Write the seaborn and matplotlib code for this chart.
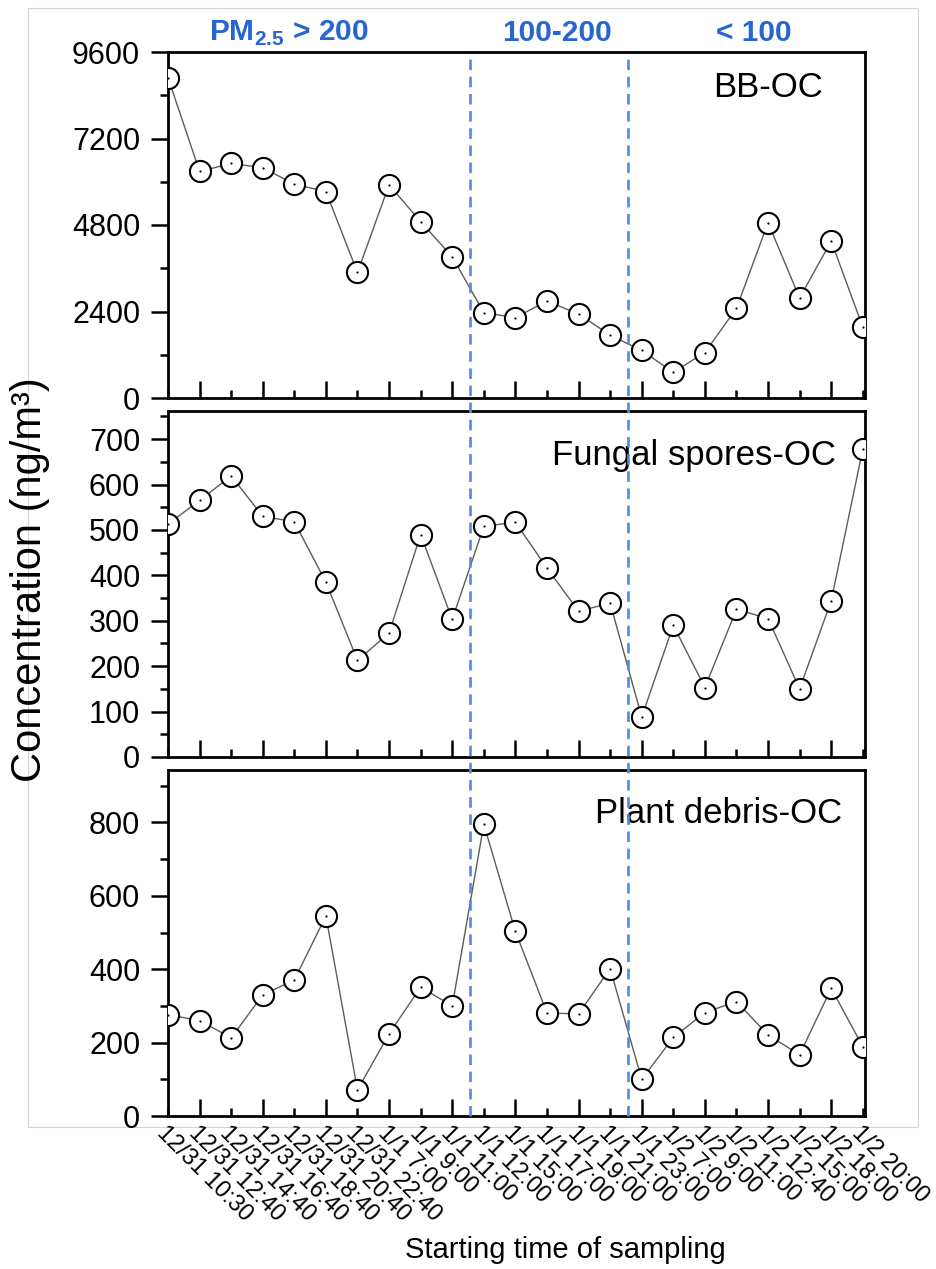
import numpy as np
import pandas as pd
import matplotlib
matplotlib.use("Agg")
import matplotlib.pyplot as plt
import seaborn as sns
from matplotlib.lines import Line2D
from matplotlib.patches import Rectangle
from matplotlib.transforms import blended_transform_factory
from matplotlib.ticker import FixedLocator, FixedFormatter, MultipleLocator

# ---------------- data ----------------
sample_times = [
    "12/31 10:30", "12/31 12:40", "12/31 14:40", "12/31 16:40",
    "12/31 18:40", "12/31 20:40", "12/31 22:40",
    "1/1 7:00", "1/1 9:00", "1/1 11:00", "1/1 12:00", "1/1 15:00",
    "1/1 17:00", "1/1 19:00", "1/1 21:00", "1/1 23:00",
    "1/2 7:00", "1/2 9:00", "1/2 11:00", "1/2 12:40", "1/2 15:00",
    "1/2 18:00", "1/2 20:00",
]
bb_oc = [8890, 6285, 6508, 6388, 5934, 5728, 3483, 5915, 4892, 3917,
         2368, 2229, 2691, 2329, 1744, 1318, 713, 1262, 2488, 4864,
         2775, 4354, 1967]
fungal_spores_oc = [513, 565, 619, 530, 518, 385, 213, 273, 490, 303,
                    508, 517, 416, 321, 339, 88, 290, 153, 325, 305,
                    150, 344, 678]
plant_debris_oc = [276, 260, 213, 330, 371, 545, 71, 224, 351, 300,
                   795, 503, 281, 278, 402, 100, 214, 282, 312, 221,
                   167, 348, 189]
panel_names = ["BB-OC", "Fungal spores-OC", "Plant debris-OC"]
period_labels = [r"PM$_{\mathbf{2.5}}$ > 200", "100-200", "< 100"]
period_breaks = [9.55, 14.55]
y_limits = [(0, 9600), (0, 762), (0, 943)]
y_major = [2400, 100, 200]
y_minor = [1200, 50, 100]

# ---------------- style ----------------
sns.set_style("ticks")
plt.rcParams["font.family"] = ["Liberation Sans", "DejaVu Sans"]
plt.rcParams["mathtext.fontset"] = "custom"
plt.rcParams["mathtext.rm"] = "Liberation Sans"
plt.rcParams["mathtext.bf"] = "Liberation Sans:bold"
for key in ["text.color", "axes.labelcolor", "xtick.color", "ytick.color",
            "axes.edgecolor"]:
    plt.rcParams[key] = "black"

W, H = 936, 1269
fig = plt.figure(figsize=(W / 100, H / 100), dpi=100)


def rect(l, t, r, b):
    return [l / W, 1 - b / H, (r - l) / W, (b - t) / H]


boxes = [(168, 52, 865, 398), (168, 411, 865, 757), (168, 770, 865, 1116)]
series = [bb_oc, fungal_spores_oc, plant_debris_oc]
label_pos = [(823, 97), (836, 465), (842, 823)]

n = len(sample_times)
idx = np.arange(n)
major_pos = [i for i in idx if i % 2 == 1]
minor_pos = [i for i in idx if i % 2 == 0]

axes = []
for k, (box, vals) in enumerate(zip(boxes, series)):
    ax = fig.add_axes(rect(*box))
    axes.append(ax)
    df = pd.DataFrame({"idx": idx, "value": vals})
    sns.lineplot(data=df, x="idx", y="value", ax=ax, color="#5c5c5c",
                 linewidth=1.0, marker="o", markersize=15.2,
                 markerfacecolor="white", markeredgecolor="black",
                 markeredgewidth=1.5, zorder=3)
    sns.scatterplot(data=df, x="idx", y="value", ax=ax, color="black",
                    s=2.5, linewidth=0, zorder=4)
    ax.set_xlim(0, n - 1 + 0.07)
    ax.set_ylim(*y_limits[k])
    ax.yaxis.set_major_locator(MultipleLocator(y_major[k]))
    ax.yaxis.set_minor_locator(MultipleLocator(y_minor[k]))
    ax.xaxis.set_major_locator(FixedLocator(major_pos))
    ax.xaxis.set_minor_locator(FixedLocator(minor_pos))
    ax.xaxis.set_major_formatter(FixedFormatter([sample_times[i] for i in major_pos]))
    ax.xaxis.set_minor_formatter(FixedFormatter([sample_times[i] for i in minor_pos]))
    ax.set_xlabel("")
    ax.set_ylabel("")
    for sp in ax.spines.values():
        sp.set_linewidth(2.0)
        sp.set_color("black")
        sp.set_visible(True)
    ax.tick_params(axis="x", which="major", direction="in", length=12,
                   width=1.8, color="black")
    ax.tick_params(axis="x", which="minor", direction="in", length=6,
                   width=1.8, color="black")
    ax.tick_params(axis="y", which="major", direction="out", length=12,
                   width=1.8, labelsize=22, pad=8, color="black",
                   labelcolor="black")
    ax.tick_params(axis="y", which="minor", direction="out", length=6,
                   width=1.8, color="black")
    if k < 2:
        ax.tick_params(axis="x", which="both", labelbottom=False)
    else:
        ax.tick_params(axis="x", which="both", labelsize=17, pad=4,
                       labelcolor="black")
        for lbl in ax.get_xticklabels(which="both"):
            lbl.set_rotation(-45)
            lbl.set_ha("left")
            lbl.set_va("top")
            lbl.set_rotation_mode("anchor")
    lx, ly = label_pos[k]
    fig.text(lx / W, 1 - ly / H, panel_names[k], ha="right", va="baseline",
             fontsize=25, color="black")

# dashed separators spanning all panels
for b in period_breaks:
    tr = blended_transform_factory(axes[2].transData, fig.transFigure)
    fig.add_artist(Line2D([b, b], [1 - 1116 / H, 1 - 55 / H], transform=tr,
                          color="#4d8be6", linewidth=1.9, dashes=(4, 2.5),
                          zorder=10))

# period headers
for text, cx in zip(period_labels, [289, 557, 754]):
    fig.text(cx / W, 1 - 41 / H, text, ha="center", va="baseline",
             fontsize=21.5, fontweight="bold", color="#2766d0")

fig.text(30 / W, 1 - 580 / H, "Concentration (ng/m³)", rotation=90,
         ha="center", va="center", fontsize=30, color="black")
fig.text(565 / W, 1 - 1250 / H, "Starting time of sampling", ha="center",
         va="center", fontsize=21, color="black")

fig.add_artist(Rectangle((28 / W, 1 - 1127 / H), (918 - 28) / W, (1127 - 8) / H,
                         transform=fig.transFigure, fill=False,
                         edgecolor="#d4d4d4", linewidth=0.8, zorder=0))

fig.savefig("out.png", dpi=100)
